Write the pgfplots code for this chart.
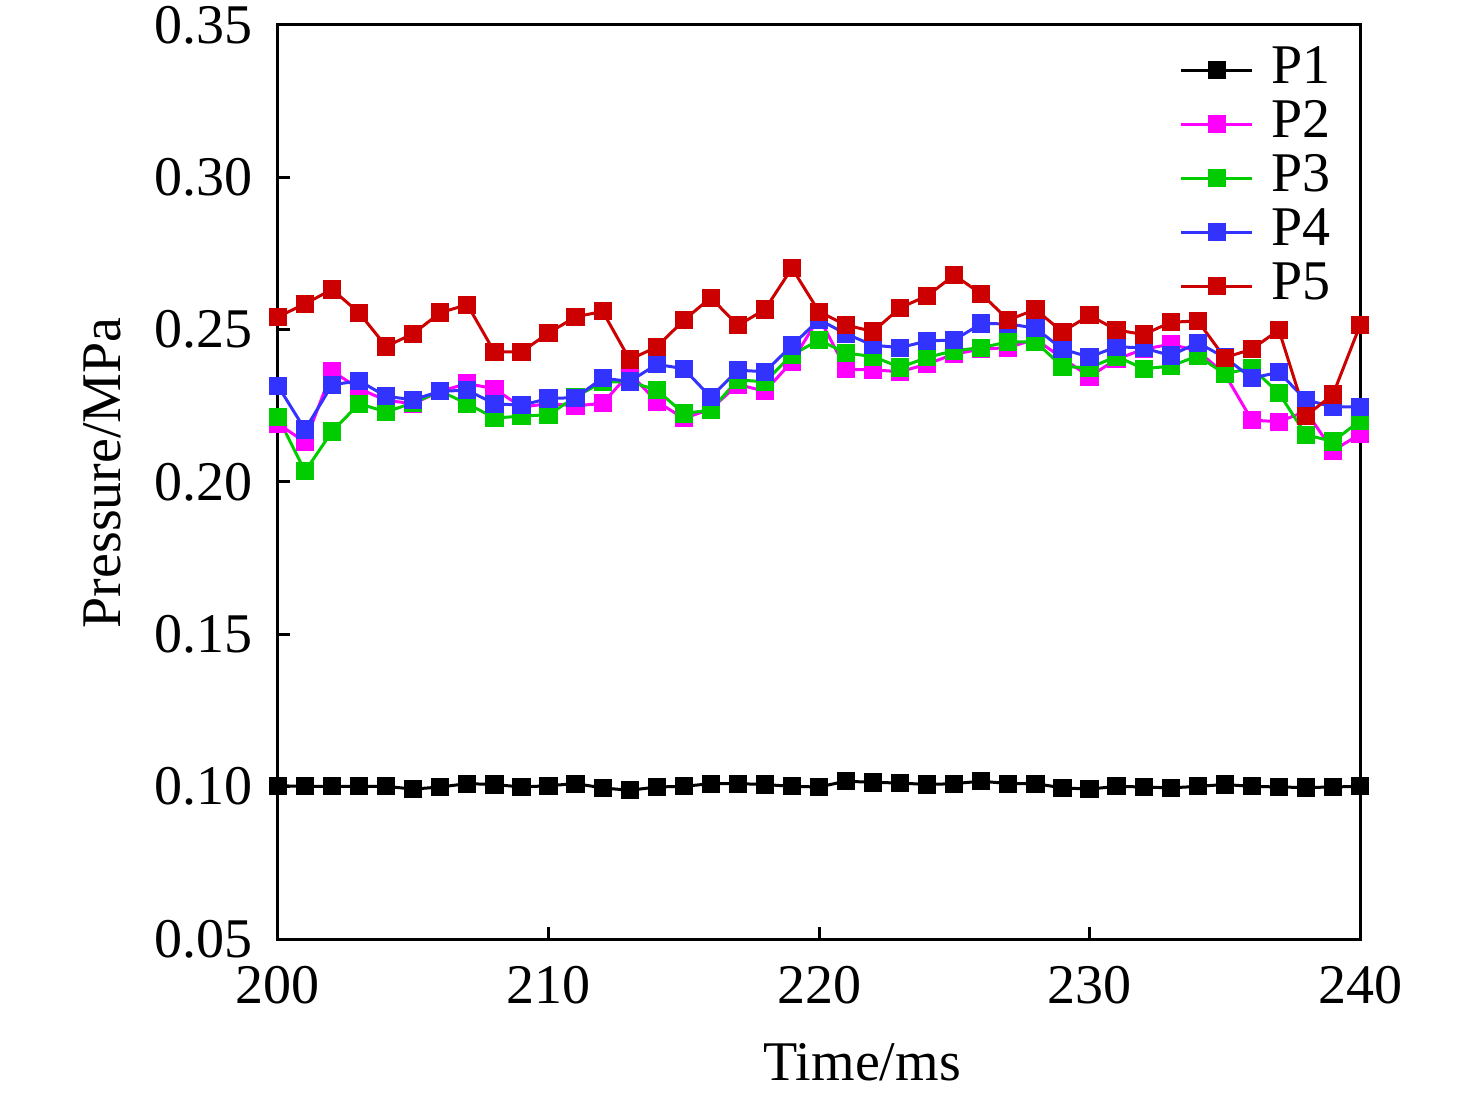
\documentclass[border=0pt]{standalone}
\usepackage{pgfplots}
\pgfplotsset{compat=1.18}
\usepackage{pgfplotstable}
\usepackage{fontspec}
\setmainfont{Liberation Serif}

\definecolor{cP1}{RGB}{0,0,0}
\definecolor{cP2}{RGB}{255,0,255}
\definecolor{cP3}{RGB}{0,204,0}
\definecolor{cP4}{RGB}{51,51,255}
\definecolor{cP5}{RGB}{204,0,0}

\pgfplotstableread{
t P1 P2 P3 P4 P5
200 0.1003 0.2191 0.2213 0.2315 0.2542
201 0.1001 0.2131 0.2035 0.2172 0.2585
202 0.1001 0.2364 0.2166 0.2319 0.2632
203 0.1001 0.2306 0.2257 0.2332 0.2555
204 0.1001 0.2268 0.2230 0.2281 0.2445
205 0.0992 0.2257 0.2260 0.2270 0.2487
206 0.0999 0.2298 0.2298 0.2298 0.2556
207 0.1010 0.2323 0.2257 0.2301 0.2582
208 0.1007 0.2306 0.2210 0.2257 0.2427
209 0.0999 0.2246 0.2216 0.2252 0.2427
210 0.1003 0.2257 0.2221 0.2274 0.2489
211 0.1010 0.2250 0.2279 0.2277 0.2542
212 0.0996 0.2258 0.2329 0.2341 0.2560
213 0.0988 0.2357 0.2329 0.2330 0.2402
214 0.0999 0.2264 0.2302 0.2386 0.2443
215 0.1001 0.2209 0.2225 0.2372 0.2531
216 0.1010 0.2239 0.2236 0.2278 0.2605
217 0.1010 0.2320 0.2335 0.2367 0.2514
218 0.1007 0.2298 0.2329 0.2362 0.2566
219 0.1001 0.2395 0.2417 0.2448 0.2702
220 0.0999 0.2540 0.2466 0.2533 0.2559
221 0.1018 0.2370 0.2423 0.2486 0.2515
222 0.1014 0.2368 0.2412 0.2449 0.2494
223 0.1012 0.2362 0.2376 0.2441 0.2572
224 0.1007 0.2387 0.2409 0.2463 0.2611
225 0.1010 0.2420 0.2431 0.2466 0.2679
226 0.1018 0.2436 0.2441 0.2520 0.2617
227 0.1010 0.2441 0.2460 0.2519 0.2532
228 0.1010 0.2469 0.2460 0.2505 0.2566
229 0.0996 0.2406 0.2379 0.2436 0.2493
230 0.0992 0.2346 0.2375 0.2410 0.2547
231 0.1001 0.2403 0.2412 0.2444 0.2499
232 0.0999 0.2436 0.2372 0.2440 0.2484
233 0.0996 0.2452 0.2380 0.2415 0.2524
234 0.1001 0.2430 0.2414 0.2457 0.2529
235 0.1007 0.2355 0.2355 0.2409 0.2408
236 0.1001 0.2203 0.2374 0.2341 0.2436
237 0.0999 0.2198 0.2292 0.2360 0.2499
238 0.0997 0.2232 0.2155 0.2270 0.2217
239 0.0999 0.2103 0.2133 0.2246 0.2287
240 0.1001 0.2157 0.2201 0.2247 0.2514
}\datatable

\begin{document}
\begin{tikzpicture}
\useasboundingbox (-139pt,-79pt) rectangle (599pt,469.5pt);
\begin{axis}[
  at={(0pt,0pt)}, anchor=south west,
  scale only axis,
  width=541pt, height=457pt,
  xmin=200, xmax=240, ymin=0.05, ymax=0.35,
  xtick={200,210,220,230,240},
  ytick={0.05,0.10,0.15,0.20,0.25,0.30,0.35},
  tick align=inside,
  xtick pos=bottom, ytick pos=left,
  major tick length=6pt,
  tick style={line width=1.5pt, black},
  axis line style={line width=1.5pt},
  /pgf/number format/assume math mode=true,
  yticklabel style={/pgf/number format/fixed, /pgf/number format/zerofill, /pgf/number format/precision=2,
    anchor=east, inner sep=0pt, xshift=-12.5pt},
  xticklabel style={anchor=center, inner sep=0pt, yshift=-23pt},
  scaled y ticks=false,
  tick label style={font=\fontsize{28}{34}\selectfont},
  xlabel={Time/ms},
  ylabel={Pressure/MPa},
  every axis x label/.style={at={(axis description cs:0.54,0)}, anchor=center, yshift=-61.5pt, font=\fontsize{28}{34}\selectfont},
  every axis y label/.style={at={(axis description cs:-0.162,0.51)}, anchor=center, rotate=90, font=\fontsize{28}{34}\selectfont},
  legend style={draw=none, fill=none, at={(0.979,0.985)}, anchor=north east,
    font=\fontsize{28}{34}\selectfont,
    nodes={inner sep=0pt, text height=20pt, text depth=7pt},
    column sep=9pt},
  legend cell align=left,
  legend image code/.code={%
    \draw[#1, mark=none] (0pt,0pt) -- (35.5pt,0pt);
    \draw[#1, only marks, mark size=3.7pt] plot coordinates {(17.75pt,0pt)};
  },
  every axis plot/.append style={line width=1.5pt, mark=square*, mark size=3.8pt, mark options={solid}},
]
\addplot[color=cP1] table[x=t, y=P1] {\datatable};
\addplot[color=cP2] table[x=t, y=P2] {\datatable};
\addplot[color=cP3] table[x=t, y=P3] {\datatable};
\addplot[color=cP4] table[x=t, y=P4] {\datatable};
\addplot[color=cP5] table[x=t, y=P5] {\datatable};
\legend{P1,P2,P3,P4,P5}
\end{axis}
\end{tikzpicture}
\end{document}
